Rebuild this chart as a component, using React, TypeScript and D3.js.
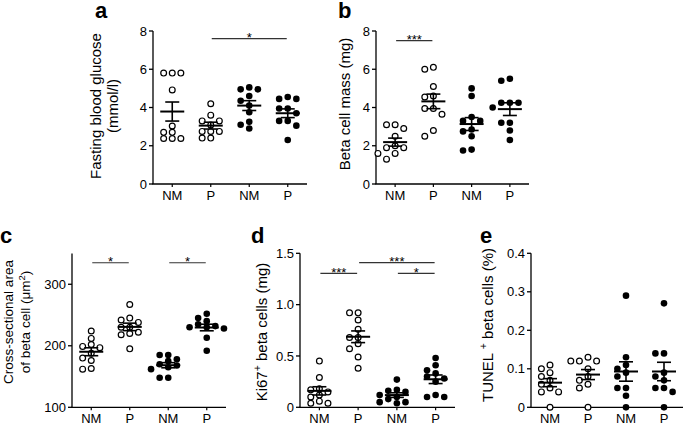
import React from 'react';
import * as d3 from 'd3';

const categories = ['NM', 'P', 'NM', 'P'];
const filled = [false, false, true, true];

// a: fasting blood glucose (mmol/l)
const glucoseOpenNM = [5.8, 5.8, 5.8, 4.92, 3.03, 2.7, 2.7, 2.38, 2.38, 2.38];
const glucoseOpenP = [4.2, 3.6, 3.3, 3.3, 3.08, 2.75, 2.75, 2.75, 2.4, 2.4];
const glucoseFilledNM = [4.95, 4.95, 5.05, 4.6, 4.35, 4.1, 3.75, 3.25, 3.1, 2.9];
const glucoseFilledP = [4.45, 4.45, 4.55, 3.95, 3.95, 3.7, 3.3, 3.3, 3.05, 2.3];

// b: beta cell mass (mg)
const massOpenNM = [3.1, 3.1, 2.9, 2.5, 2.0, 1.9, 1.9, 1.6, 1.6, 1.3];
const massOpenP = [6.0, 6.1, 5.1, 4.6, 4.55, 3.95, 3.95, 3.65, 2.8, 2.5];
const massFilledNM = [5.0, 4.6, 3.5, 3.3, 3.3, 2.85, 2.75, 2.5, 1.75, 1.8];
const massFilledP = [5.5, 5.4, 4.25, 4.25, 4.25, 4.0, 3.2, 3.2, 2.8, 2.3];

// c: cross-sectional area (um2)
const areaOpenNM = [224, 212, 202, 199, 197, 188, 180, 176, 163, 162];
const areaOpenP = [267, 245, 242, 238, 230, 230, 222, 220, 218, 195];
const areaFilledNM = [185, 185, 178, 175, 170, 168, 165, 162, 148, 148];
const areaFilledP = [252, 245, 240, 235, 232, 230, 230, 228, 213, 192];

// d: Ki67+ beta cells (mg)
const ki67OpenNM = [0.45, 0.29, 0.18, 0.17, 0.15, 0.12, 0.1, 0.06, 0.04, 0.04];
const ki67OpenP = [0.92, 0.92, 0.85, 0.76, 0.68, 0.68, 0.62, 0.57, 0.49, 0.38];
const ki67FilledNM = [0.27, 0.17, 0.16, 0.15, 0.12, 0.1, 0.08, 0.05, 0.05, 0.04];
const ki67FilledP = [0.48, 0.41, 0.36, 0.33, 0.3, 0.28, 0.25, 0.12, 0.1, 0.1];

// e: TUNEL+ beta cells (%)
const tunelOpenNM = [0.11, 0.1, 0.09, 0.08, 0.07, 0.06, 0.05, 0.04, 0.04, 0.0];
const tunelOpenP = [0.13, 0.12, 0.12, 0.12, 0.1, 0.08, 0.07, 0.06, 0.05, 0.0];
const tunelFilledNM = [0.29, 0.13, 0.11, 0.1, 0.09, 0.08, 0.05, 0.05, 0.03, 0.0];
const tunelFilledP = [0.27, 0.14, 0.14, 0.09, 0.08, 0.07, 0.05, 0.05, 0.04, 0.0];

const ticksAB = [0, 2, 4, 6, 8];
const ticksC = [100, 200, 300];
const ticksD = [0, 0.5, 1.0, 1.5];
const ticksE = [0, 0.1, 0.2, 0.3, 0.4];

const FONT = "'Liberation Sans', Arial, Helvetica, sans-serif";

type Sig = { from: number; to: number; level: number; text: string };
type Panel = {
  letter: string;
  letterX: number;
  letterY: number;
  x0: number;
  x1: number;
  yTop: number;
  yBot: number;
  domain: [number, number];
  ticks: number[];
  fmt: (v: number) => string;
  groups: number[][];
  sigs: Sig[];
  title: React.ReactNode[];
  titleX: number[];
  titleCY: number;
  titleSize: number;
};

const fmtInt = (v: number) => String(v);
const fmt1 = (v: number) => (v === 0 ? '0' : v.toFixed(1));

const sup = (t: string) => (
  <tspan baselineShift="super" fontSize="70%">{t}</tspan>
);

const panels: Panel[] = [
  {
    letter: 'a', letterX: 95, letterY: 18,
    x0: 153, x1: 307, yTop: 31, yBot: 184, domain: [0, 8], ticks: ticksAB, fmt: fmtInt,
    groups: [glucoseOpenNM, glucoseOpenP, glucoseFilledNM, glucoseFilledP],
    sigs: [{ from: 1, to: 3, level: 7.6, text: '*' }],
    title: [<>Fasting blood glucose</>, <>(mmol/l)</>], titleX: [96, 113], titleCY: 106, titleSize: 15,
  },
  {
    letter: 'b', letterX: 338, letterY: 18,
    x0: 376, x1: 529, yTop: 31, yBot: 184, domain: [0, 8], ticks: ticksAB, fmt: fmtInt,
    groups: [massOpenNM, massOpenP, massFilledNM, massFilledP],
    sigs: [{ from: 0, to: 1, level: 7.5, text: '***' }],
    title: [<>Beta cell mass (mg)</>], titleX: [345], titleCY: 104, titleSize: 15,
  },
  {
    letter: 'c', letterX: 0, letterY: 243,
    x0: 72, x1: 226, yTop: 253.5, yBot: 407.3, domain: [100, 350], ticks: ticksC, fmt: fmtInt,
    groups: [areaOpenNM, areaOpenP, areaFilledNM, areaFilledP],
    sigs: [
      { from: 0, to: 1, level: 335, text: '*' },
      { from: 2, to: 3, level: 335, text: '*' },
    ],
    title: [<>Cross-sectional area</>, <>of beta cell (μm{sup('2')})</>], titleX: [8, 25], titleCY: 322, titleSize: 13.5,
  },
  {
    letter: 'd', letterX: 251, letterY: 243,
    x0: 300, x1: 455, yTop: 253.3, yBot: 407.3, domain: [0, 1.5], ticks: ticksD, fmt: fmt1,
    groups: [ki67OpenNM, ki67OpenP, ki67FilledNM, ki67FilledP],
    sigs: [
      { from: 0, to: 1, level: 1.305, text: '***' },
      { from: 1, to: 3, level: 1.41, text: '***' },
      { from: 2, to: 3, level: 1.305, text: '*' },
    ],
    title: [<>Ki67{sup('+')} beta cells (mg)</>], titleX: [262], titleCY: 332, titleSize: 15,
  },
  {
    letter: 'e', letterX: 480, letterY: 243,
    x0: 531, x1: 683, yTop: 253.3, yBot: 407.3, domain: [0, 0.4], ticks: ticksE, fmt: fmt1,
    groups: [tunelOpenNM, tunelOpenP, tunelFilledNM, tunelFilledP],
    sigs: [],
    title: [<>TUNEL {sup('+')} beta cells (%)</>], titleX: [487.5], titleCY: 325, titleSize: 15,
  },
];

const R = 2.9;
const STEP = 8.6;

function swarm(values: number[], y: (v: number) => number) {
  const sorted = [...values].sort((a, b) => b - a);
  const placed: { v: number; y: number; k: number }[] = [];
  for (const v of sorted) {
    const yy = y(v);
    for (const k of [0, -1, 1, -2, 2, -3, 3]) {
      if (!placed.some((p) => p.k === k && Math.abs(p.y - yy) < 2 * R)) {
        placed.push({ v, y: yy, k });
        break;
      }
    }
  }
  return placed;
}

function PanelView({ p }: { p: Panel }) {
  const x = d3.scalePoint<number>().domain([0, 1, 2, 3]).range([p.x0, p.x1]).padding(0.5);
  const y = d3.scaleLinear().domain(p.domain).range([p.yBot, p.yTop]);
  return (
    <g fontFamily={FONT}>
      <text x={p.letterX} y={p.letterY} fontSize={22} fontWeight="bold">{p.letter}</text>
      {p.title.map((t, i) => (
        <text
          key={i}
          transform={`translate(${p.titleX[i]},${p.titleCY}) rotate(-90)`}
          textAnchor="middle"
          dy="0.36em"
          fontSize={p.titleSize}
        >
          {t}
        </text>
      ))}
      {/* y axis */}
      <line x1={p.x0} x2={p.x0} y1={p.yBot} y2={p.yTop} stroke="#000" strokeWidth={1.3} />
      {p.ticks.map((t) => (
        <g key={t}>
          <line x1={p.x0 - 4} x2={p.x0} y1={y(t)} y2={y(t)} stroke="#000" strokeWidth={1.3} />
          <text x={p.x0 - 6} y={y(t)} dy="0.36em" textAnchor="end" fontSize={13}>{p.fmt(t)}</text>
        </g>
      ))}
      {/* x axis */}
      <line x1={p.x0 - 0.65} x2={p.x1} y1={p.yBot} y2={p.yBot} stroke="#000" strokeWidth={1.3} />
      {categories.map((c, i) => (
        <g key={i}>
          <line x1={x(i)!} x2={x(i)!} y1={p.yBot} y2={p.yBot + 3} stroke="#000" strokeWidth={1.2} />
          <text x={x(i)!} y={p.yBot + 15.6} textAnchor="middle" fontSize={13}>{c}</text>
        </g>
      ))}
      {/* significance */}
      {p.sigs.map((s, i) => (
        <g key={i}>
          <line x1={x(s.from)! + 1} x2={x(s.to)! - 1} y1={y(s.level)} y2={y(s.level)} stroke="#333" strokeWidth={1.2} />
          <text x={(x(s.from)! + x(s.to)!) / 2} y={y(s.level) + 3.5} textAnchor="middle" fontSize={13}>{s.text}</text>
        </g>
      ))}
      {/* points */}
      {p.groups.map((g, gi) => {
        const pts = swarm(g, y);
        const m = d3.mean(g)!;
        const sem = d3.deviation(g)! / Math.sqrt(g.length);
        const cx = x(gi)!;
        return (
          <g key={gi}>
            {pts.map((pt, j) => (
              <circle
                key={j}
                cx={cx + pt.k * STEP}
                cy={pt.y}
                r={filled[gi] ? R + 0.4 : R}
                fill={filled[gi] ? '#000' : '#fff'}
                stroke="#000"
                strokeWidth={filled[gi] ? 0 : 1.2}
              />
            ))}
            <line x1={cx - 12} x2={cx + 12} y1={y(m)} y2={y(m)} stroke="#000" strokeWidth={2} />
            <line x1={cx} x2={cx} y1={y(m - sem)} y2={y(m + sem)} stroke="#000" strokeWidth={1.6} />
            <line x1={cx - 7} x2={cx + 7} y1={y(m + sem)} y2={y(m + sem)} stroke="#000" strokeWidth={1.6} />
            <line x1={cx - 7} x2={cx + 7} y1={y(m - sem)} y2={y(m - sem)} stroke="#000" strokeWidth={1.6} />
          </g>
        );
      })}
    </g>
  );
}

export default function App() {
  return (
    <svg
      width={685}
      height={424}
      style={{ position: 'absolute', left: 0, top: 0, background: '#fff' }}
    >
      <rect width={685} height={424} fill="#fff" />
      {panels.map((p) => (
        <PanelView key={p.letter} p={p} />
      ))}
    </svg>
  );
}
